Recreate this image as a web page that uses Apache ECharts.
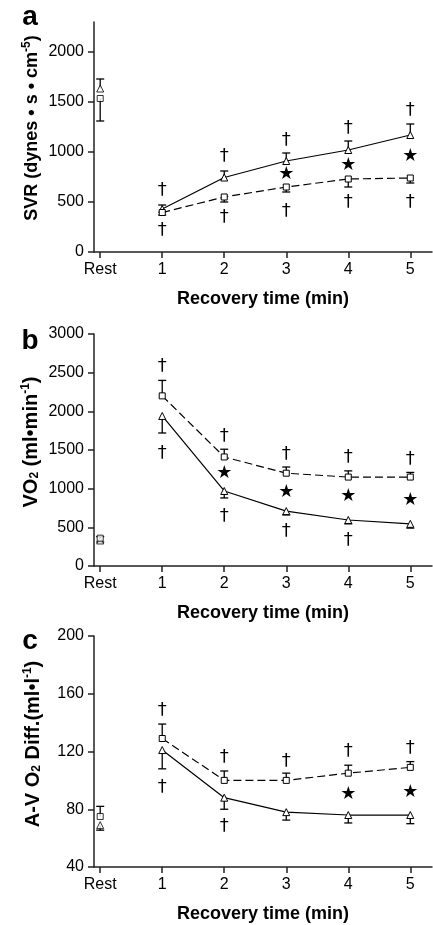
<!DOCTYPE html>
<html>
<head>
<meta charset="utf-8">
<script src="https://cdn.jsdelivr.net/npm/echarts@6/dist/echarts.min.js"></script>
<style>
html, body { margin: 0; padding: 0; background: #fff; }
#chart { width: 433px; height: 925px; }
</style>
</head>
<body>
<div id="chart"></div>
<script>
// time points: 0 = Rest, then minutes of recovery
var timeLabels = ['Rest', '1', '2', '3', '4', '5'];
var minutes = [1, 2, 3, 4, 5];

// panel a - SVR
var svrTri = [430, 745, 910, 1020, 1170];
var svrTriErr = [470, 810, 990, 1110, 1280];
var svrSq = [395, 550, 650, 730, 740];
var svrSqErr = [370, 500, 600, 650, 690];
var svrRest = { tri: 1635, triErr: 1730, sq: 1535, sqErr: 1310 };
var svrDagUp = [620, 960, 1120, 1240, 1420];
var svrDagDownX = [1, 2, 3, 4, 5];
var svrDagDown = [220, 350, 410, 500, 500];
var svrStarX = [3, 4, 5];
var svrStar = [780, 870, 960];
var svrTicks = [0, 500, 1000, 1500, 2000];

// panel b - VO2
var vo2Sq = [2200, 1410, 1200, 1150, 1150];
var vo2SqErr = [2400, 1510, 1280, 1230, 1210];
var vo2Tri = [1940, 970, 710, 595, 545];
var vo2TriErr = [1720, 880, 660, 545, 490];
var vo2Rest = { tri: 330, triErr: 310, sq: 360, sqErr: 380 };
var vo2DagUp = [2580, 1680, 1440, 1400, 1385];
var vo2DagDownX = [1, 2, 3, 4];
var vo2DagDown = [1460, 640, 445, 330];
var vo2StarX = [2, 3, 4, 5];
var vo2Star = [1200, 950, 895, 855];
var vo2Ticks = [0, 500, 1000, 1500, 2000, 2500, 3000];

// panel c - A-V O2 difference
var avSq = [129, 100, 100, 105, 109];
var avSqErr = [139, 106.5, 105, 110.5, 113];
var avTri = [121, 88, 78, 76, 76];
var avTriErr = [108, 80, 72.5, 70.5, 70];
var avRest = { tri: 69, triErr: 65.5, sq: 75, sqErr: 82 };
var avDagUp = [148.5, 116, 113.5, 120, 122];
var avDagDownX = [1, 2];
var avDagDown = [95, 68];
var avStarX = [4, 5];
var avStar = [90, 91.5];
var avTicks = [40, 80, 120, 160, 200];

var FONT = '"Liberation Sans", Arial, sans-serif';

function pairs(xs, ys) {
	return xs.map(function (x, i) { return [x, ys[i]]; });
}

function errData(rest, restErr, vals, errs) {
	var d = [[0, rest, restErr]];
	minutes.forEach(function (m, i) { d.push([m, vals[i], errs[i]]); });
	return d;
}

function errRender(params, api) {
	var x = api.value(0);
	var p0 = api.coord([x, api.value(1)]);
	var p1 = api.coord([x, api.value(2)]);
	var cap = 4;
	var st = { stroke: '#000', lineWidth: 1.3 };
	return {
		type: 'group',
		children: [
			{ type: 'line', shape: { x1: p0[0], y1: p0[1], x2: p1[0], y2: p1[1] }, style: st },
			{ type: 'line', shape: { x1: p1[0] - cap, y1: p1[1], x2: p1[0] + cap, y2: p1[1] }, style: st }
		]
	};
}

function textRender(ch, size) {
	return function (params, api) {
		var p = api.coord([api.value(0), api.value(1)]);
		return {
			type: 'text', x: p[0], y: p[1],
			style: { text: ch, fill: '#000', font: size + 'px "DejaVu Sans", sans-serif', align: 'center', verticalAlign: 'middle' }
		};
	};
}

var grids = [
	{ left: 94, top: 22, width: 338, height: 230 },
	{ left: 94, top: 334, width: 338, height: 232 },
	{ left: 94, top: 636, width: 338, height: 231 }
];

var axisLineStyle = { color: '#222', width: 1.5 };

var xAxes = grids.map(function (g, i) {
	return {
		type: 'value', gridIndex: i, min: -0.1, max: 5.35,
		axisLine: { show: true, onZero: false, lineStyle: axisLineStyle },
		axisTick: { show: true, length: 6, customValues: [0, 1, 2, 3, 4, 5], lineStyle: axisLineStyle },
		axisLabel: {
			customValues: [0, 1, 2, 3, 4, 5], margin: 10, color: '#000', fontSize: 16, fontFamily: FONT,
			formatter: function (v) { return timeLabels[Math.round(v)]; }
		},
		splitLine: { show: false },
		name: 'Recovery time (min)', nameLocation: 'middle', nameGap: 38,
		nameTextStyle: { color: '#000', fontSize: 18, fontWeight: 'bold', fontFamily: FONT }
	};
});

var yRanges = [[0, 2300, svrTicks], [0, 3000, vo2Ticks], [40, 200, avTicks]];
var yAxes = yRanges.map(function (r, i) {
	return {
		type: 'value', gridIndex: i, min: r[0], max: r[1],
		axisLine: { show: true, onZero: false, lineStyle: axisLineStyle },
		axisTick: { show: true, length: 6, customValues: r[2], lineStyle: axisLineStyle },
		axisLabel: {
			customValues: r[2], margin: 10, color: '#000', fontSize: 16, fontFamily: FONT,
			formatter: function (v) { return String(v); }
		},
		splitLine: { show: false }
	};
});

var series = [];
function addPanel(i, tri, triErr, sq, sqErr, rest, dagUp, dagDownX, dagDown, starX, star) {
	series.push({ type: 'custom', xAxisIndex: i, yAxisIndex: i, z: 1, renderItem: errRender, data: errData(rest.tri, rest.triErr, tri, triErr) });
	series.push({ type: 'custom', xAxisIndex: i, yAxisIndex: i, z: 1, renderItem: errRender, data: errData(rest.sq, rest.sqErr, sq, sqErr) });
	series.push({
		type: 'line', xAxisIndex: i, yAxisIndex: i, z: 3, data: pairs(minutes, tri),
		symbol: 'triangle', symbolSize: 7, showAllSymbol: true,
		lineStyle: { color: '#000', width: 1.2 },
		itemStyle: { color: '#fff', borderColor: '#000', borderWidth: 1 }
	});
	series.push({
		type: 'line', xAxisIndex: i, yAxisIndex: i, z: 3, data: pairs(minutes, sq),
		symbol: 'rect', symbolSize: 6, showAllSymbol: true,
		lineStyle: { color: '#000', width: 1.2, type: [8, 4] },
		itemStyle: { color: '#fff', borderColor: '#000', borderWidth: 1 }
	});
	series.push({
		type: 'scatter', xAxisIndex: i, yAxisIndex: i, z: 3, data: [[0, rest.tri]],
		symbol: 'triangle', symbolSize: 7, itemStyle: { color: '#fff', borderColor: '#000', borderWidth: 1 }
	});
	series.push({
		type: 'scatter', xAxisIndex: i, yAxisIndex: i, z: 3, data: [[0, rest.sq]],
		symbol: 'rect', symbolSize: 6, itemStyle: { color: '#fff', borderColor: '#000', borderWidth: 1 }
	});
	series.push({ type: 'custom', xAxisIndex: i, yAxisIndex: i, z: 4, renderItem: textRender('\u2020', 18), data: pairs(minutes, dagUp) });
	series.push({ type: 'custom', xAxisIndex: i, yAxisIndex: i, z: 4, renderItem: textRender('\u2020', 18), data: pairs(dagDownX, dagDown) });
	series.push({ type: 'custom', xAxisIndex: i, yAxisIndex: i, z: 4, renderItem: textRender('\u2605', 18), data: pairs(starX, star) });
}

addPanel(0, svrTri, svrTriErr, svrSq, svrSqErr, svrRest, svrDagUp, svrDagDownX, svrDagDown, svrStarX, svrStar);
addPanel(1, vo2Tri, vo2TriErr, vo2Sq, vo2SqErr, vo2Rest, vo2DagUp, vo2DagDownX, vo2DagDown, vo2StarX, vo2Star);
addPanel(2, avTri, avTriErr, avSq, avSqErr, avRest, avDagUp, avDagDownX, avDagDown, avStarX, avStar);

function rich(size) {
	return {
		sup: { fontSize: 12, fontWeight: 'bold', fontFamily: FONT, fill: '#000', padding: [0, 0, 10, 0] },
		sub: { fontSize: 12, fontWeight: 'bold', fontFamily: FONT, fill: '#000', padding: [8, 0, 0, 0] }
	};
}
function yTitle(text, x, y, size) {
	return {
		type: 'text', x: x, y: y, rotation: Math.PI / 2,
		style: {
			text: text, fill: '#000', font: 'bold ' + size + 'px ' + FONT,
			align: 'center', verticalAlign: 'middle', rich: rich(size)
		}
	};
}
function panelLetter(ch, x, y) {
	return { type: 'text', x: x, y: y, style: { text: ch, fill: '#000', font: 'bold 28px ' + FONT, align: 'center', verticalAlign: 'middle' } };
}

var option = {
	animation: false,
	backgroundColor: '#fff',
	grid: grids,
	xAxis: xAxes,
	yAxis: yAxes,
	series: series,
	graphic: [
		yTitle('SVR (dynes \u2022 s \u2022 cm{sup|-5})', 32, 128, 18),
		yTitle('VO{sub|2} (ml\u2022min{sup|-1})', 31, 442, 20),
		yTitle('A-V O{sub|2} Diff.(ml\u2022l{sup|-1})', 33, 744, 20),
		panelLetter('a', 30, 17),
		panelLetter('b', 30, 341),
		panelLetter('c', 30, 641)
	]
};

var myChart = echarts.init(document.getElementById('chart'));
myChart.setOption(option);
</script>
</body>
</html>
